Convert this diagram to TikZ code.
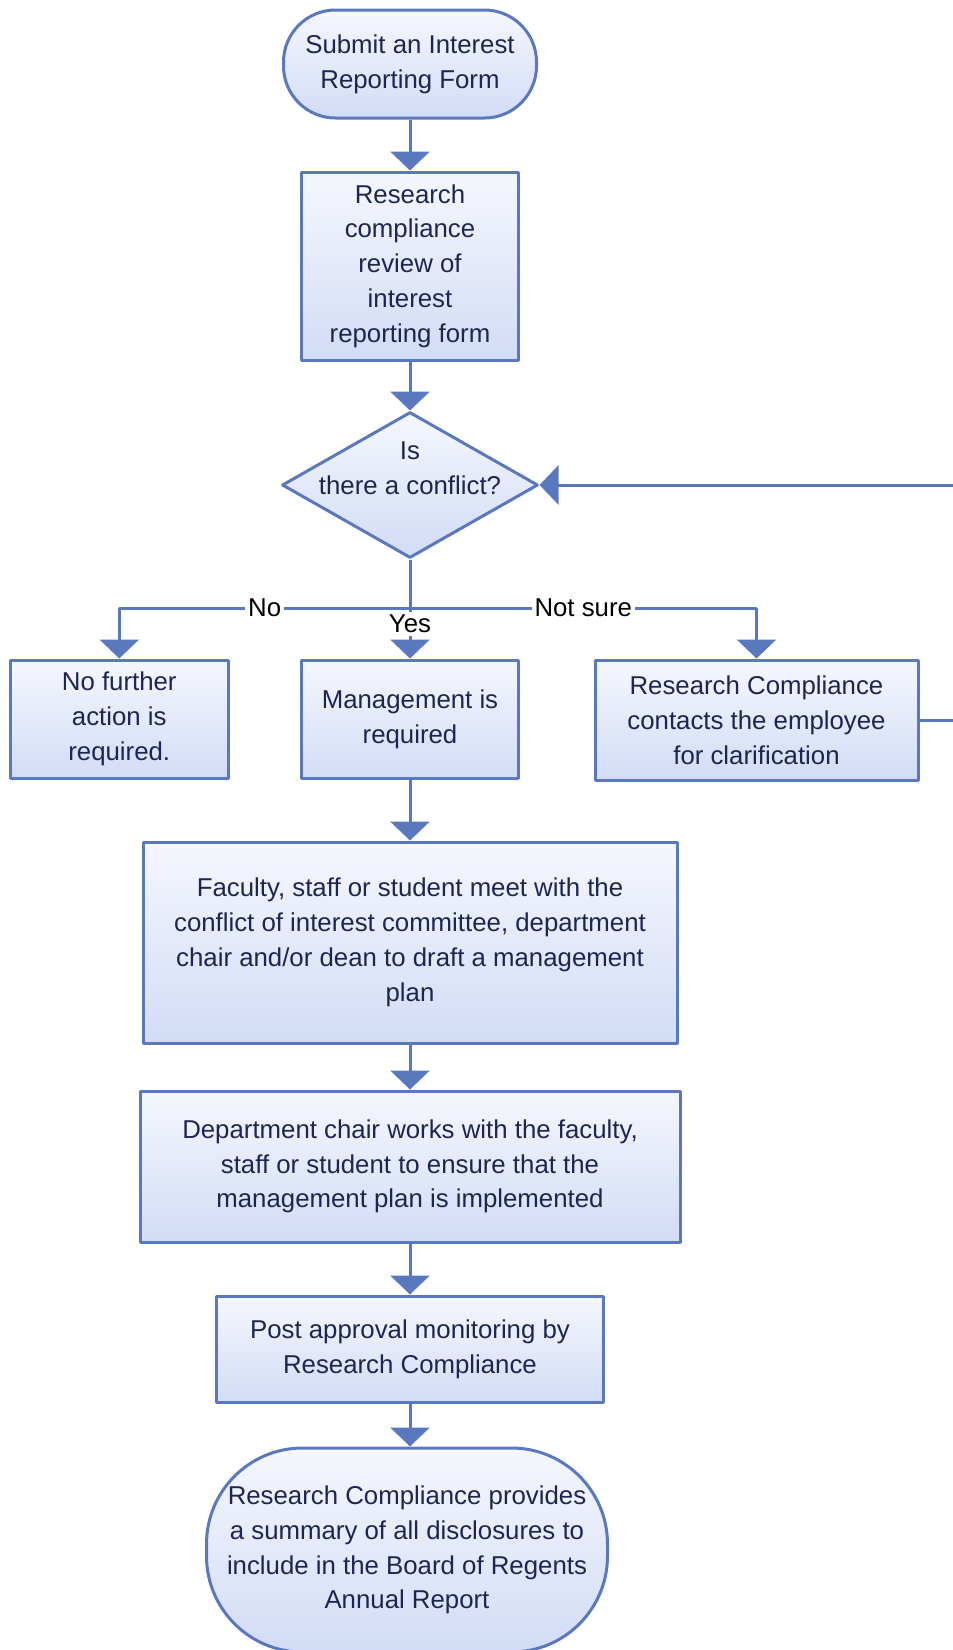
\documentclass[tikz,border=0pt]{standalone}
\usepackage{fontspec}
\setmainfont{Liberation Sans}
\usetikzlibrary{shapes.geometric,arrows.meta}
\definecolor{edge}{HTML}{5A78BE}
\definecolor{boxtop}{HTML}{F5F7FD}
\definecolor{boxbot}{HTML}{D2DCF6}
\definecolor{ink}{HTML}{1C2650}
\begin{document}
\begin{tikzpicture}[x=0.5pt, y=-0.5pt, font=\fontsize{12.9}{17.4}\selectfont, line join=round,
  >={Triangle[width=19.5pt,length=9.5pt]},
  box/.style={draw=edge, line width=1.5pt, top color=boxtop, bottom color=boxbot, text=ink, align=center, inner sep=0pt},
  term/.style={box, rounded corners=#1},
  flow/.style={->, draw=edge, line width=1.5pt},
  lbl/.style={fill=white, text=black, inner sep=1.5pt}]
\useasboundingbox (0,0) rectangle (953,1650);
% main column
\node[term=26pt, minimum width=126.5pt, minimum height=54pt] (start) at (410,64) {Submit an Interest\\Reporting Form};
\node[box, minimum width=108.5pt, minimum height=94pt] (review) at (410,266) {Research\\compliance\\review of\\interest\\reporting form};
\node[box, diamond, aspect=1.75, minimum width=128pt, minimum height=73pt, inner sep=-10pt, text depth=17pt] (conflict) at (410,485) {Is\\there a conflict?};
\coordinate (fork) at (410,608);
% three outcomes
\node[box, minimum width=108.75pt, minimum height=59pt] (nofurther) at (119.25,719) {No further\\action is\\required.};
\node[box, minimum width=108.5pt, minimum height=59pt] (mgmt) at (410,719) {Management is\\required};
\node[box, minimum width=161.5pt, minimum height=60pt] (contact) at (756.5,720) {Research Compliance\\contacts the employee\\for clarification};
% management plan
\node[box, minimum width=267pt, minimum height=100.5pt] (meet) at (410,942.5) {Faculty, staff or student meet with the\\conflict of interest committee, department\\chair and/or dean to draft a management\\plan};
\node[box, minimum width=270pt, minimum height=75.5pt] (chair) at (410,1166.5) {Department chair works with the faculty,\\staff or student to ensure that the\\management plan is implemented};
\node[box, minimum width=193.5pt, minimum height=53pt] (monitor) at (410,1349) {Post approval monitoring by\\Research Compliance};
\node[term=48pt, minimum width=200.5pt, minimum height=102pt] (report) at (407,1550) {Research Compliance provides\\a summary of all disclosures to\\include in the Board of Regents\\Annual Report};
% connectors
\draw[flow] (start) -- (review);
\draw[flow] (review) -- (conflict);
\draw[flow] (conflict) -- node[lbl, pos=0.65]{Yes} (mgmt);
\draw[flow] (conflict.south) -- (fork) -- node[lbl]{No} (fork -| nofurther) -- (nofurther.north);
\draw[flow] (fork) -- node[lbl]{Not sure} (fork -| contact) -- (contact.north);
\draw[flow] (contact.east) -- ++(50,0) |- (conflict.east);
\draw[flow] (mgmt) -- (meet);
\draw[flow] (meet) -- (chair);
\draw[flow] (chair) -- (monitor);
\draw[flow] (monitor) -- (report.north -| monitor);
\end{tikzpicture}
\end{document}
